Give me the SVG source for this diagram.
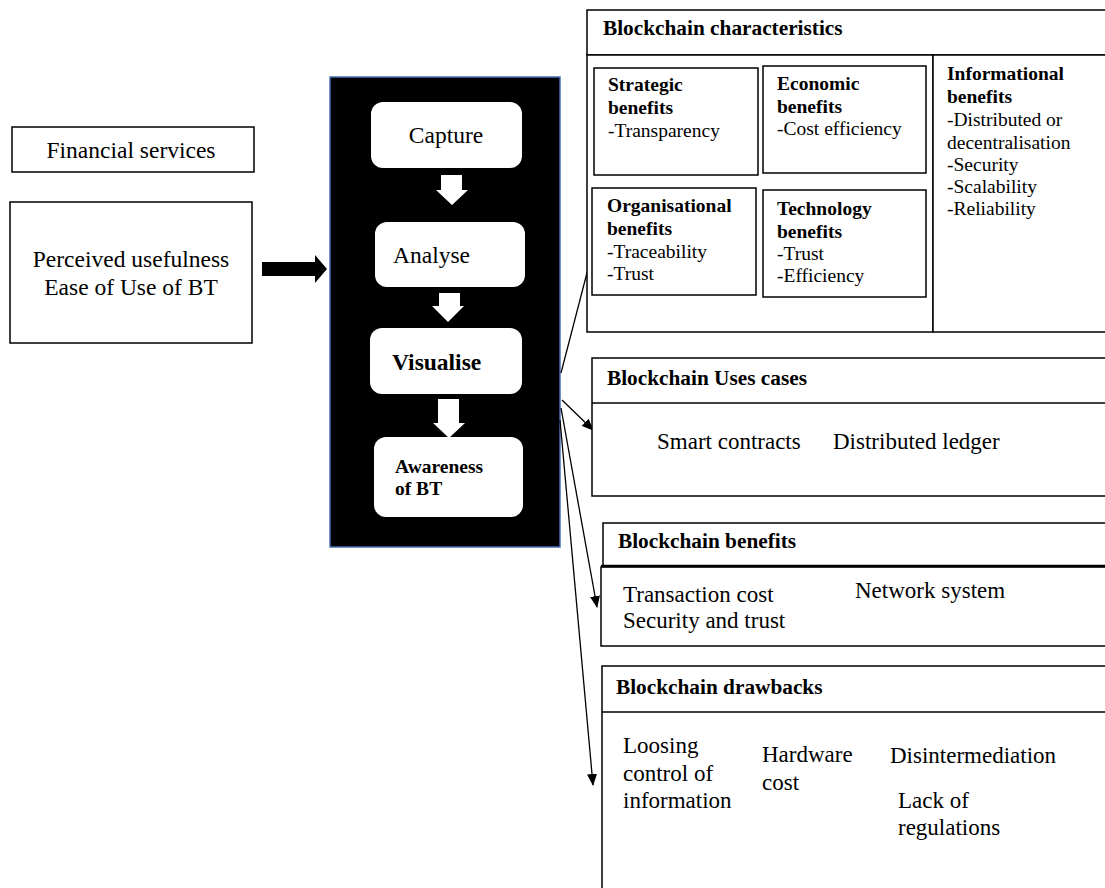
<svg xmlns="http://www.w3.org/2000/svg" width="1105" height="888" viewBox="0 0 1105 888">
  <style>
    .box { fill: #ffffff; stroke: #000000; stroke-width: 1.5; }
    .step { fill: #ffffff; stroke: none; }
    text { font-family: 'Liberation Serif', 'Times New Roman', 'DejaVu Serif', serif; fill: #000000; }
    .lg { font-size: 23.5px; }
    .md { font-size: 23px; }
    .sm { font-size: 19.5px; }
    .hd { font-size: 21.3px; font-weight: bold; }
    .bd { font-weight: bold; }
    .link { fill: none; stroke: #000000; stroke-width: 1.3; marker-end: url(#head); }
  </style>
  <defs>
    <marker id="head" viewBox="0 0 12 10" refX="11" refY="5" markerWidth="12" markerHeight="10" markerUnits="userSpaceOnUse" orient="auto">
      <path d="M0,0 L12,5 L0,10 Z" fill="#000000"/>
    </marker>
  </defs>

  <rect width="1105" height="888" fill="#ffffff"/>

  <!-- left inputs -->
  <g id="financial-services">
    <rect class="box" x="12" y="127" width="242" height="45"/>
    <text class="lg" x="131" y="158" text-anchor="middle">Financial services</text>
  </g>
  <g id="perceived-usefulness">
    <rect class="box" x="10" y="202" width="242" height="141"/>
    <text class="lg" x="131" y="267" text-anchor="middle">Perceived usefulness</text>
    <text class="lg" x="131" y="295" text-anchor="middle">Ease of Use of BT</text>
  </g>

  <!-- process panel -->
  <g id="process-panel">
    <rect x="330" y="77" width="230" height="470" fill="#000000" stroke="#4a6db0" stroke-width="1.5"/>
    <g id="capture">
      <rect class="step" x="371" y="102" width="151" height="66" rx="12"/>
      <text class="lg" x="446" y="143" text-anchor="middle">Capture</text>
    </g>
    <g id="analyse">
      <rect class="step" x="375" y="222" width="150" height="65" rx="12"/>
      <text class="lg" x="393" y="263">Analyse</text>
    </g>
    <g id="visualise">
      <rect class="step" x="370" y="328" width="152" height="66" rx="12"/>
      <text class="lg bd" x="392" y="370">Visualise</text>
    </g>
    <g id="awareness">
      <rect class="step" x="374" y="437" width="149" height="80" rx="12"/>
      <text class="sm bd" x="395" y="473">Awareness</text>
      <text class="sm bd" x="395" y="495">of BT</text>
    </g>
  </g>

  <!-- connectors -->
  <g id="connectors">
    <!-- block arrow into the panel -->
    <path d="M262,262 L315,262 L315,255 L327,269 L315,283 L315,276 L262,276 Z" fill="#000000"/>
    <!-- white step arrows -->
    <path d="M441,175 L462,175 L462,190 L468,190 L452,205 L436,190 L441,190 Z" fill="#ffffff"/>
    <path d="M439,293 L460,293 L460,306 L464,306 L448,322 L432,306 L439,306 Z" fill="#ffffff"/>
    <path d="M438,399 L459,399 L459,423 L465,423 L449,438 L433,423 L438,423 Z" fill="#ffffff"/>
    <!-- links to the right-hand boxes -->
    <line class="link" x1="561" y1="373" x2="595" y2="242"/>
    <line class="link" x1="562" y1="400" x2="593" y2="430"/>
    <line class="link" x1="561" y1="408" x2="597" y2="607"/>
    <line class="link" x1="560" y1="420" x2="593" y2="785"/>
  </g>

  <!-- blockchain characteristics -->
  <g id="characteristics">
    <rect class="box" x="587" y="10" width="530" height="45"/>
    <text class="hd" x="603" y="35">Blockchain characteristics</text>
    <rect class="box" x="587" y="55" width="346" height="277"/>
    <rect class="box" x="933" y="55" width="184" height="277"/>
  </g>
  <g id="strategic">
    <rect class="box" x="594" y="68" width="164" height="107"/>
    <text class="sm bd" x="608" y="91">Strategic</text>
    <text class="sm bd" x="608" y="114">benefits</text>
    <text class="sm" x="608" y="137">-Transparency</text>
  </g>
  <g id="economic">
    <rect class="box" x="763" y="66" width="163" height="107"/>
    <text class="sm bd" x="777" y="90">Economic</text>
    <text class="sm bd" x="777" y="113">benefits</text>
    <text class="sm" x="777" y="135">-Cost efficiency</text>
  </g>
  <g id="organisational">
    <rect class="box" x="592" y="188" width="164" height="107"/>
    <text class="sm bd" x="607" y="212">Organisational</text>
    <text class="sm bd" x="607" y="235">benefits</text>
    <text class="sm" x="607" y="258">-Traceability</text>
    <text class="sm" x="607" y="280">-Trust</text>
  </g>
  <g id="technology">
    <rect class="box" x="763" y="190" width="163" height="107"/>
    <text class="sm bd" x="777" y="215">Technology</text>
    <text class="sm bd" x="777" y="238">benefits</text>
    <text class="sm" x="777" y="260">-Trust</text>
    <text class="sm" x="777" y="282">-Efficiency</text>
  </g>
  <g id="informational">
    <text class="sm bd" x="947" y="80">Informational</text>
    <text class="sm bd" x="947" y="103">benefits</text>
    <text class="sm" x="947" y="126">-Distributed or</text>
    <text class="sm" x="947" y="149">decentralisation</text>
    <text class="sm" x="947" y="171">-Security</text>
    <text class="sm" x="947" y="193">-Scalability</text>
    <text class="sm" x="947" y="215">-Reliability</text>
  </g>

  <!-- use cases -->
  <g id="use-cases">
    <rect class="box" x="592" y="358" width="525" height="138"/>
    <line x1="592" y1="403" x2="1117" y2="403" stroke="#000000" stroke-width="1.5"/>
    <text class="hd" x="607" y="385">Blockchain Uses cases</text>
    <text class="md" x="657" y="449">Smart contracts</text>
    <text class="md" x="833" y="449">Distributed ledger</text>
  </g>

  <!-- benefits -->
  <g id="benefits">
    <rect class="box" x="603" y="523" width="514" height="44"/>
    <rect class="box" x="601" y="567" width="516" height="79"/>
    <line x1="601" y1="566" x2="1117" y2="566" stroke="#000000" stroke-width="2.5"/>
    <text class="hd" x="618" y="548">Blockchain benefits</text>
    <text class="md" x="623" y="602">Transaction cost</text>
    <text class="md" x="623" y="628">Security and trust</text>
    <text class="md" x="855" y="598">Network system</text>
  </g>

  <!-- drawbacks -->
  <g id="drawbacks">
    <rect class="box" x="602" y="666" width="515" height="240"/>
    <line x1="602" y1="712" x2="1117" y2="712" stroke="#000000" stroke-width="1.5"/>
    <text class="hd" x="616" y="694">Blockchain drawbacks</text>
    <text class="md" x="623" y="753">Loosing</text>
    <text class="md" x="623" y="781">control of</text>
    <text class="md" x="623" y="808">information</text>
    <text class="md" x="762" y="762">Hardware</text>
    <text class="md" x="762" y="790">cost</text>
    <text class="md" x="890" y="763">Disintermediation</text>
    <text class="md" x="898" y="808">Lack of</text>
    <text class="md" x="898" y="835">regulations</text>
  </g>
</svg>
